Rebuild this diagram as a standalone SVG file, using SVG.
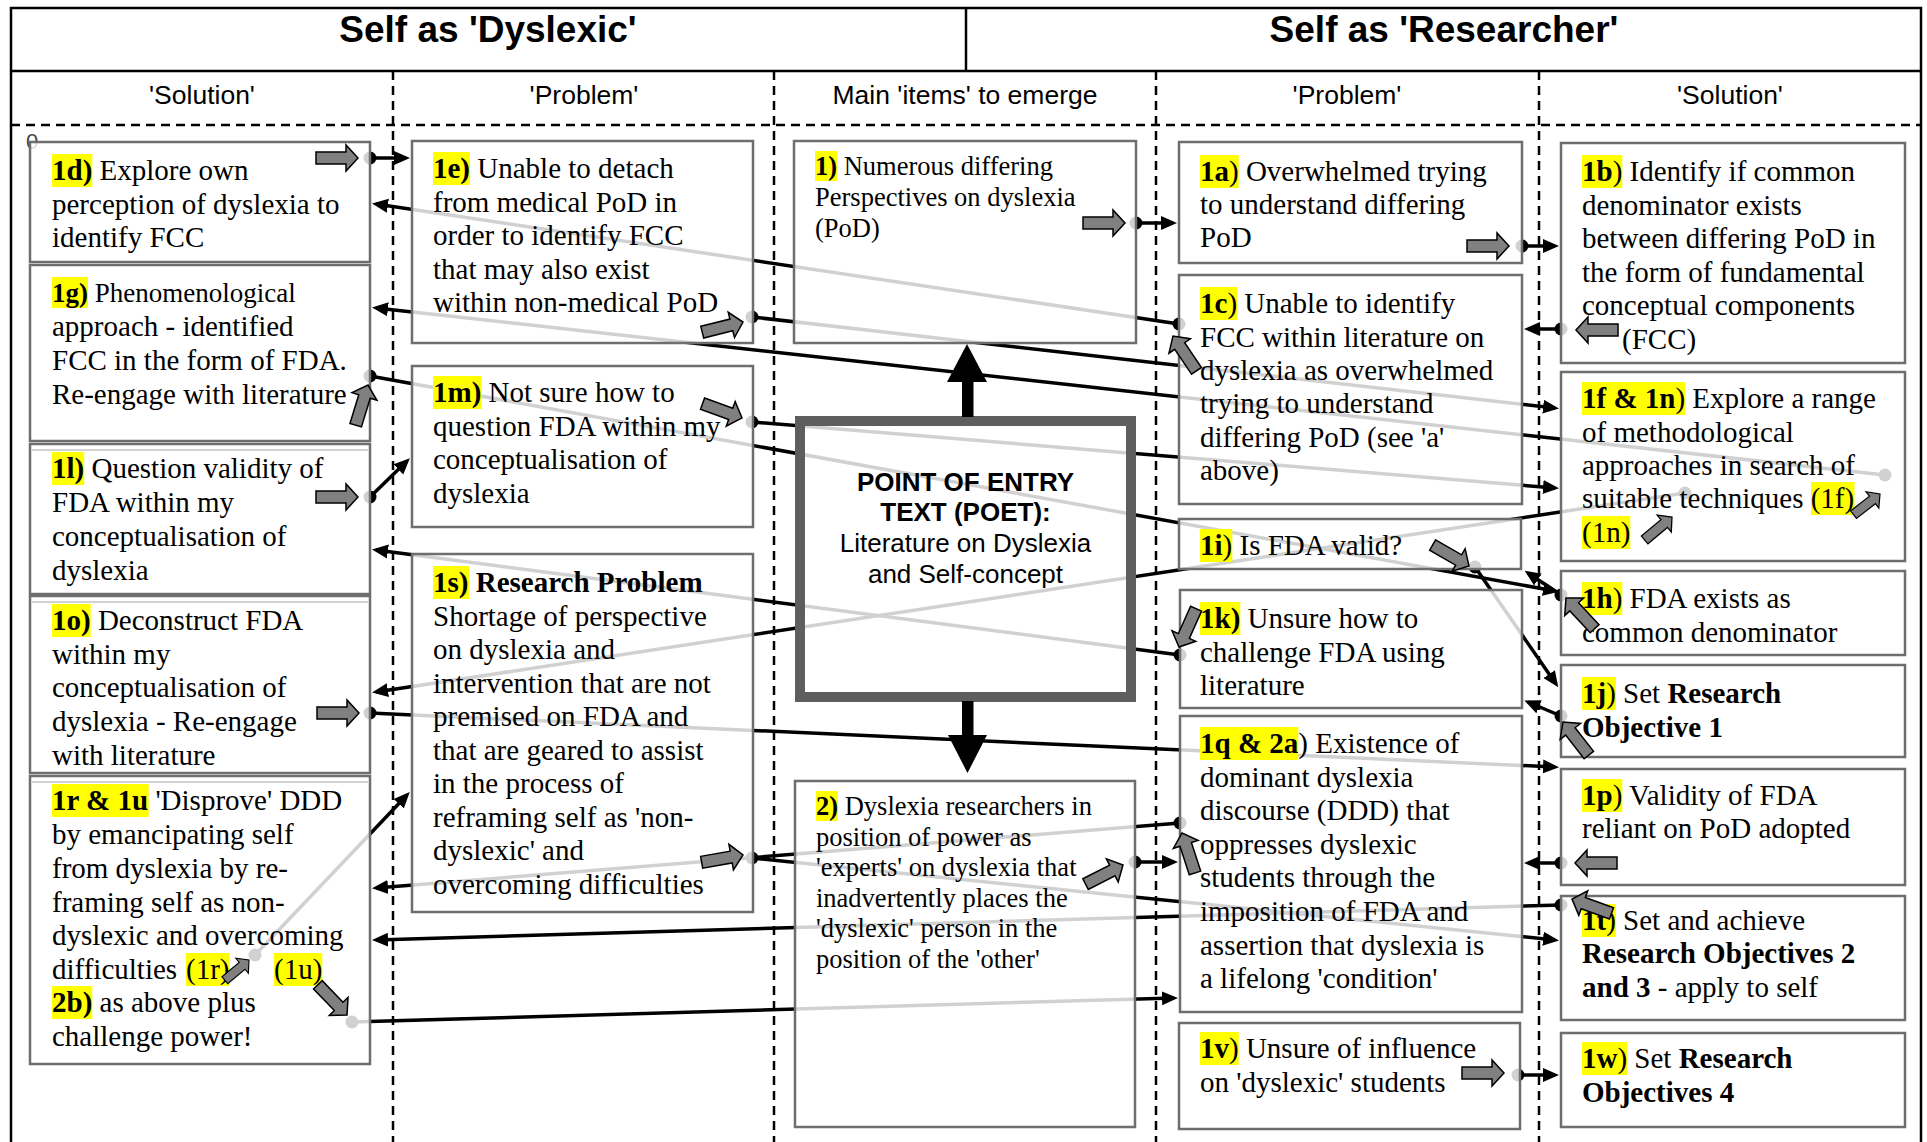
<svg xmlns="http://www.w3.org/2000/svg" xmlns:xlink="http://www.w3.org/1999/xlink" width="1927" height="1142" viewBox="0 0 1927 1142">
<style>
  .frame { fill: none; stroke: #000; stroke-width: 2.5; }
  .dash { stroke: #000; stroke-width: 2.5; stroke-dasharray: 9 6; fill: none; }
  .title { font-family: "Liberation Sans", Arial, sans-serif; font-size: 37px; font-weight: bold; text-anchor: middle; fill: #000; }
  .colhead { font-family: "Liberation Sans", Arial, sans-serif; font-size: 26.5px; text-anchor: middle; fill: #000; }
  .t { font-family: "Liberation Serif", "Times New Roman", serif; font-size: 29px; fill: #000; }
  .s { font-size: 26.5px; }
  .b { font-weight: bold; }
  .hl { fill: #ffff00; }
  .box { fill: #fff; fill-opacity: 0.82; stroke: #6e6e6e; stroke-width: 2.5; }
  .inner { stroke: #d2d2d2; stroke-width: 2; }
  .con { fill: none; stroke: #000; stroke-width: 3.5; marker-start: url(#dot); marker-end: url(#head); }
  .blk { fill: #808080; stroke: #000; stroke-width: 1.5; stroke-linejoin: miter; }
  .poet { fill: #fff; fill-opacity: 0.82; stroke: #5e5e5e; stroke-width: 10; }
  .poettxt { font-family: "Liberation Sans", Arial, sans-serif; font-size: 26px; text-anchor: middle; fill: #000; }
</style>
<defs>
  <marker id="dot" markerUnits="userSpaceOnUse" markerWidth="16" markerHeight="16" refX="8" refY="8" viewBox="0 0 16 16">
    <circle cx="8" cy="8" r="6.5" fill="#000"/>
  </marker>
  <marker id="head" markerUnits="userSpaceOnUse" markerWidth="18" markerHeight="16" refX="12" refY="8" orient="auto" viewBox="0 0 18 16">
    <path d="M0,1 L16,8 L0,15 Z" fill="#000"/>
  </marker>
  <!-- fat grey pointer, tip at origin, pointing along +x -->
  <path id="ba" d="M-42,-6 L-12,-6 L-12,-13 L0,0 L-12,13 L-12,6 L-42,6 Z"/>
</defs>

<rect width="1927" height="1142" fill="#fff"/>

<!-- table frame -->
<g id="frame">
  <rect class="frame" x="11" y="8" width="1910" height="1160"/>
  <line class="frame" x1="11" y1="71" x2="1921" y2="71"/>
  <line class="frame" x1="966" y1="8" x2="966" y2="71"/>
  <line class="dash" x1="11" y1="125" x2="1921" y2="125"/>
  <line class="dash" x1="393" y1="71" x2="393" y2="1142"/>
  <line class="dash" x1="774" y1="71" x2="774" y2="1142"/>
  <line class="dash" x1="1156" y1="71" x2="1156" y2="1142"/>
  <line class="dash" x1="1539" y1="71" x2="1539" y2="1142"/>
  <text class="title" x="488" y="42">Self as 'Dyslexic'</text>
  <text class="title" x="1444" y="42">Self as 'Researcher'</text>
  <text class="colhead" x="202" y="104">'Solution'</text>
  <text class="colhead" x="584" y="104">'Problem'</text>
  <text class="colhead" x="965" y="104">Main 'items' to emerge</text>
  <text class="colhead" x="1347" y="104">'Problem'</text>
  <text class="colhead" x="1730" y="104">'Solution'</text>
  <text x="26" y="149" font-family="Liberation Sans, Arial, sans-serif" font-size="22" fill="#444">0</text>
</g>

<!-- connectors: dot marks the start, arrowhead the end -->
<g id="connectors">
  <path class="con" d="M1136,223 L1173,223"/>
  <path class="con" d="M1522,246 L1555,246"/>
  <path class="con" d="M1561,329 L1528,329"/>
  <path class="con" d="M1179,324 L376,204"/>
  <path class="con" d="M370,158 L406,158"/>
  <path class="con" d="M752,317 L1555,408"/>
  <path class="con" d="M1885,475 L376,308"/>
  <path class="con" d="M370,376 L1555,591"/>
  <path class="con" d="M1561,595 L1528,573"/>
  <path class="con" d="M1475,567 L1556,684"/>
  <path class="con" d="M1561,716 L1528,702"/>
  <path class="con" d="M1180,655 L376,550"/>
  <path class="con" d="M370,497 L407,461"/>
  <path class="con" d="M752,422 L1555,488"/>
  <path class="con" d="M1685,493 L376,692"/>
  <path class="con" d="M370,713 L1555,767"/>
  <path class="con" d="M1561,863 L1528,863"/>
  <path class="con" d="M1180,823 L376,888"/>
  <path class="con" d="M255,955 L407,795"/>
  <path class="con" d="M752,858 L1555,940"/>
  <path class="con" d="M1561,905 L376,940"/>
  <path class="con" d="M352,1022 L1174,998"/>
  <path class="con" d="M1135,862 L1174,862"/>
  <path class="con" d="M1518,1075 L1555,1075"/>
</g>

<!-- left 'Solution' column -->
<g id="node-1d">
  <rect class="box" x="30" y="142" width="340" height="120"/>
  <rect class="hl" x="52" y="154" width="40.3" height="33"/>
  <text class="t"><tspan x="52" y="180"><tspan class="b">1d)</tspan> Explore own</tspan><tspan x="52" y="213.5">perception of dyslexia to</tspan><tspan x="52" y="247">identify FCC</tspan></text>
  <use xlink:href="#ba" class="blk" transform="translate(358,158)"/>
</g>
<g id="node-1g">
  <rect class="box" x="30" y="265" width="340" height="176"/>
  <rect class="hl" x="52" y="277" width="36" height="31"/>
  <text class="t"><tspan x="52" y="302" font-size="27"><tspan class="b">1g)</tspan> Phenomenological</tspan><tspan x="52" y="336">approach - identified</tspan><tspan x="52" y="370">FCC in the form of FDA.</tspan><tspan x="52" y="404">Re-engage with literature</tspan></text>
  <use xlink:href="#ba" class="blk" transform="translate(368,385) rotate(-73)"/>
</g>
<g id="node-1l">
  <rect class="box" x="30" y="444" width="340" height="150"/>
  <line class="inner" x1="32" y1="450" x2="368" y2="450"/>
  <rect class="hl" x="52" y="452" width="32.2" height="33"/>
  <text class="t"><tspan x="52" y="478"><tspan class="b">1l)</tspan> Question validity of</tspan><tspan x="52" y="512">FDA within my</tspan><tspan x="52" y="546">conceptualisation of</tspan><tspan x="52" y="580">dyslexia</tspan></text>
  <use xlink:href="#ba" class="blk" transform="translate(358,497)"/>
</g>
<g id="node-1o">
  <rect class="box" x="30" y="596" width="340" height="177"/>
  <line class="inner" x1="32" y1="602" x2="368" y2="602"/>
  <rect class="hl" x="52" y="604" width="38.7" height="33"/>
  <text class="t"><tspan x="52" y="630"><tspan class="b">1o)</tspan> Deconstruct FDA</tspan><tspan x="52" y="664">within my</tspan><tspan x="52" y="697">conceptualisation of</tspan><tspan x="52" y="731">dyslexia - Re-engage</tspan><tspan x="52" y="765">with literature</tspan></text>
  <use xlink:href="#ba" class="blk" transform="translate(359,713)"/>
</g>
<g id="node-1r">
  <rect class="box" x="30" y="776" width="340" height="288"/>
  <line class="inner" x1="32" y1="782" x2="368" y2="782"/>
  <rect class="hl" x="52" y="784" width="96.7" height="33"/>
  <rect class="hl" x="186" y="953" width="43.5" height="33"/>
  <rect class="hl" x="274" y="953" width="48.3" height="33"/>
  <rect class="hl" x="52" y="986" width="40.3" height="33"/>
  <text class="t"><tspan x="52" y="810"><tspan class="b">1r &amp; 1u</tspan> 'Disprove' DDD</tspan><tspan x="52" y="844">by emancipating self</tspan><tspan x="52" y="878">from dyslexia by re-</tspan><tspan x="52" y="912">framing self as non-</tspan><tspan x="52" y="945">dyslexic and overcoming</tspan><tspan x="52" y="979">difficulties</tspan><tspan x="186" y="979">(1r)</tspan><tspan x="274" y="979">(1u)</tspan><tspan x="52" y="1012"><tspan class="b">2b)</tspan> as above plus</tspan><tspan x="52" y="1046">challenge power!</tspan></text>
  <use xlink:href="#ba" class="blk" transform="translate(249,960) rotate(-40) scale(0.75)"/>
  <use xlink:href="#ba" class="blk" transform="translate(347,1015) rotate(46)"/>
</g>

<!-- left 'Problem' column -->
<g id="node-1e">
  <rect class="box" x="412" y="141" width="341" height="202"/>
  <rect class="hl" x="433" y="152" width="37" height="33"/>
  <text class="t"><tspan x="433" y="178"><tspan class="b">1e)</tspan> Unable to detach</tspan><tspan x="433" y="211.5">from medical PoD in</tspan><tspan x="433" y="245">order to identify FCC</tspan><tspan x="433" y="278.5">that may also exist</tspan><tspan x="433" y="312">within non-medical PoD</tspan></text>
  <use xlink:href="#ba" class="blk" transform="translate(743,322) rotate(-14)"/>
</g>
<g id="node-1m">
  <rect class="box" x="412" y="366" width="341" height="161"/>
  <rect class="hl" x="433" y="376" width="48.3" height="33"/>
  <text class="t"><tspan x="433" y="402"><tspan class="b">1m)</tspan> Not sure how to</tspan><tspan x="433" y="436">question FDA within my</tspan><tspan x="433" y="469">conceptualisation of</tspan><tspan x="433" y="503">dyslexia</tspan></text>
  <use xlink:href="#ba" class="blk" transform="translate(742,418) rotate(20)"/>
</g>
<g id="node-1s">
  <rect class="box" x="412" y="554" width="341" height="358"/>
  <rect class="hl" x="433" y="566" width="36" height="33"/>
  <text class="t"><tspan x="433" y="592" class="b">1s) Research Problem</tspan><tspan x="433" y="625.5">Shortage of perspective</tspan><tspan x="433" y="659">on dyslexia and</tspan><tspan x="433" y="692.5">intervention that are not</tspan><tspan x="433" y="726">premised on FDA and</tspan><tspan x="433" y="759.5">that are geared to assist</tspan><tspan x="433" y="793">in the process of</tspan><tspan x="433" y="826.5">reframing self as 'non-</tspan><tspan x="433" y="860">dyslexic' and</tspan><tspan x="433" y="893.5">overcoming difficulties</tspan></text>
  <use xlink:href="#ba" class="blk" transform="translate(743,855) rotate(-10)"/>
</g>

<!-- centre column -->
<g id="node-1">
  <rect class="box" x="794" y="141" width="342" height="202"/>
  <rect class="hl" x="815" y="151" width="22" height="30"/>
  <text class="t s"><tspan x="815" y="175"><tspan class="b">1)</tspan> Numerous differing</tspan><tspan x="815" y="206">Perspectives on dyslexia</tspan><tspan x="815" y="237">(PoD)</tspan></text>
  <use xlink:href="#ba" class="blk" transform="translate(1125,223)"/>
</g>
<g id="node-poet">
  <rect class="poet" x="800" y="421" width="331" height="276"/>
  <text class="poettxt"><tspan x="965.5" y="491" font-weight="bold">POINT OF ENTRY</tspan><tspan x="965.5" y="521" font-weight="bold">TEXT (POET):</tspan><tspan x="965.5" y="552">Literature on Dyslexia</tspan><tspan x="965.5" y="583">and Self-concept</tspan></text>
  <rect x="962" y="381" width="11.5" height="36" fill="#000"/>
  <path d="M947,382 L987,382 L967,344 Z" fill="#000"/>
  <rect x="962" y="701" width="11.5" height="35" fill="#000"/>
  <path d="M948,735 L987,735 L967.5,773 Z" fill="#000"/>
</g>
<g id="node-2">
  <rect class="box" x="795" y="781" width="340" height="346"/>
  <rect class="hl" x="816" y="791" width="22" height="30"/>
  <text class="t s"><tspan x="816" y="815"><tspan class="b">2)</tspan> Dyslexia researchers in</tspan><tspan x="816" y="846">position of power as</tspan><tspan x="816" y="876">'experts' on dyslexia that</tspan><tspan x="816" y="907">inadvertently places the</tspan><tspan x="816" y="937">'dyslexic' person in the</tspan><tspan x="816" y="968">position of the 'other'</tspan></text>
  <use xlink:href="#ba" class="blk" transform="translate(1123,865) rotate(-27)"/>
</g>

<!-- right 'Problem' column -->
<g id="node-1a">
  <rect class="box" x="1179" y="142" width="343" height="121"/>
  <rect class="hl" x="1200" y="155" width="38.7" height="33"/>
  <text class="t"><tspan x="1200" y="181"><tspan class="b">1a</tspan>) Overwhelmed trying</tspan><tspan x="1200" y="214">to understand differing</tspan><tspan x="1200" y="247">PoD</tspan></text>
  <use xlink:href="#ba" class="blk" transform="translate(1509,246)"/>
</g>
<g id="node-1c">
  <rect class="box" x="1179" y="275" width="343" height="229"/>
  <rect class="hl" x="1200" y="287" width="37.1" height="33"/>
  <text class="t"><tspan x="1200" y="313"><tspan class="b">1c</tspan>) Unable to identify</tspan><tspan x="1200" y="347">FCC within literature on</tspan><tspan x="1200" y="380">dyslexia as overwhelmed</tspan><tspan x="1200" y="413">trying to understand</tspan><tspan x="1200" y="447">differing PoD (see 'a'</tspan><tspan x="1200" y="480">above)</tspan></text>
  <use xlink:href="#ba" class="blk" transform="translate(1173,336) rotate(-124)"/>
</g>
<g id="node-1i">
  <rect class="box" x="1179" y="519" width="342" height="50"/>
  <rect class="hl" x="1200" y="529" width="32.3" height="33"/>
  <text class="t"><tspan x="1200" y="555"><tspan class="b">1i</tspan>) Is FDA valid?</tspan></text>
  <use xlink:href="#ba" class="blk" transform="translate(1469,566) rotate(30)"/>
</g>
<g id="node-1k">
  <rect class="box" x="1180" y="590" width="342" height="118"/>
  <rect class="hl" x="1200" y="602" width="40.3" height="33"/>
  <text class="t"><tspan x="1200" y="628"><tspan class="b">1k)</tspan> Unsure how to</tspan><tspan x="1200" y="662">challenge FDA using</tspan><tspan x="1200" y="695">literature</tspan></text>
  <use xlink:href="#ba" class="blk" transform="translate(1179,647) rotate(114)"/>
</g>
<g id="node-1q">
  <rect class="box" x="1180" y="716" width="342" height="296"/>
  <rect class="hl" x="1200" y="727" width="98.3" height="33"/>
  <text class="t"><tspan x="1200" y="753"><tspan class="b">1q &amp; 2a</tspan>) Existence of</tspan><tspan x="1200" y="787">dominant dyslexia</tspan><tspan x="1200" y="820">discourse (DDD) that</tspan><tspan x="1200" y="854">oppresses dyslexic</tspan><tspan x="1200" y="887">students through the</tspan><tspan x="1200" y="921">imposition of FDA and</tspan><tspan x="1200" y="955">assertion that dyslexia is</tspan><tspan x="1200" y="988">a lifelong 'condition'</tspan></text>
  <use xlink:href="#ba" class="blk" transform="translate(1182,833) rotate(-108)"/>
</g>
<g id="node-1v">
  <rect class="box" x="1179" y="1023" width="341" height="106"/>
  <rect class="hl" x="1200" y="1032" width="38.7" height="33"/>
  <text class="t"><tspan x="1200" y="1058"><tspan class="b">1v</tspan>) Unsure of influence</tspan><tspan x="1200" y="1092">on 'dyslexic' students</tspan></text>
  <use xlink:href="#ba" class="blk" transform="translate(1504,1073)"/>
</g>

<!-- right 'Solution' column -->
<g id="node-1b">
  <rect class="box" x="1561" y="143" width="344" height="220"/>
  <rect class="hl" x="1582" y="155" width="40.3" height="33"/>
  <text class="t"><tspan x="1582" y="181"><tspan class="b">1b</tspan>) Identify if common</tspan><tspan x="1582" y="215">denominator exists</tspan><tspan x="1582" y="248">between differing PoD in</tspan><tspan x="1582" y="282">the form of fundamental</tspan><tspan x="1582" y="315">conceptual components</tspan><tspan x="1622" y="349">(FCC)</tspan></text>
  <use xlink:href="#ba" class="blk" transform="translate(1576,330) rotate(180)"/>
</g>
<g id="node-1f">
  <rect class="box" x="1561" y="372" width="344" height="189"/>
  <rect class="hl" x="1582" y="382" width="103.1" height="33"/>
  <rect class="hl" x="1811" y="482" width="43.5" height="33"/>
  <rect class="hl" x="1582" y="516" width="48.3" height="33"/>
  <text class="t"><tspan x="1582" y="408"><tspan class="b">1f &amp; 1n</tspan>) Explore a range</tspan><tspan x="1582" y="442">of methodological</tspan><tspan x="1582" y="475">approaches in search of</tspan><tspan x="1582" y="508">suitable techniques (1f)</tspan><tspan x="1582" y="542">(1n)</tspan></text>
  <use xlink:href="#ba" class="blk" transform="translate(1880,494) rotate(-38) scale(0.8)"/>
  <use xlink:href="#ba" class="blk" transform="translate(1672,517) rotate(-40) scale(0.85)"/>
</g>
<g id="node-1h">
  <rect class="box" x="1561" y="571" width="344" height="84"/>
  <rect class="hl" x="1582" y="582" width="40.3" height="33"/>
  <text class="t"><tspan x="1582" y="608"><tspan class="b">1h</tspan>) FDA exists as</tspan><tspan x="1582" y="642">common denominator</tspan></text>
  <use xlink:href="#ba" class="blk" transform="translate(1566,598) rotate(-133)"/>
</g>
<g id="node-1j">
  <rect class="box" x="1561" y="665" width="344" height="92"/>
  <rect class="hl" x="1582" y="677" width="33.9" height="33"/>
  <text class="t"><tspan x="1582" y="703"><tspan class="b">1j</tspan>) Set <tspan class="b">Research</tspan></tspan><tspan x="1582" y="737" class="b">Objective 1</tspan></text>
  <use xlink:href="#ba" class="blk" transform="translate(1563,722) rotate(-128)"/>
</g>
<g id="node-1p">
  <rect class="box" x="1561" y="769" width="344" height="116"/>
  <rect class="hl" x="1582" y="779" width="40.3" height="33"/>
  <text class="t"><tspan x="1582" y="805"><tspan class="b">1p</tspan>) Validity of FDA</tspan><tspan x="1582" y="838">reliant on PoD adopted</tspan></text>
  <use xlink:href="#ba" class="blk" transform="translate(1575,863) rotate(180)"/>
</g>
<g id="node-1t">
  <rect class="box" x="1561" y="896" width="344" height="124"/>
  <rect class="hl" x="1582" y="904" width="33.9" height="33"/>
  <text class="t"><tspan x="1582" y="930"><tspan class="b">1t</tspan>) Set and achieve</tspan><tspan x="1582" y="963" class="b">Research Objectives 2</tspan><tspan x="1582" y="997"><tspan class="b">and 3</tspan> - apply to self</tspan></text>
  <use xlink:href="#ba" class="blk" transform="translate(1572,899) rotate(-160)"/>
</g>
<g id="node-1w">
  <rect class="box" x="1561" y="1033" width="344" height="94"/>
  <rect class="hl" x="1582" y="1042" width="45.1" height="33"/>
  <text class="t"><tspan x="1582" y="1068"><tspan class="b">1w</tspan>) Set <tspan class="b">Research</tspan></tspan><tspan x="1582" y="1102" class="b">Objectives 4</tspan></text>
</g>
</svg>
